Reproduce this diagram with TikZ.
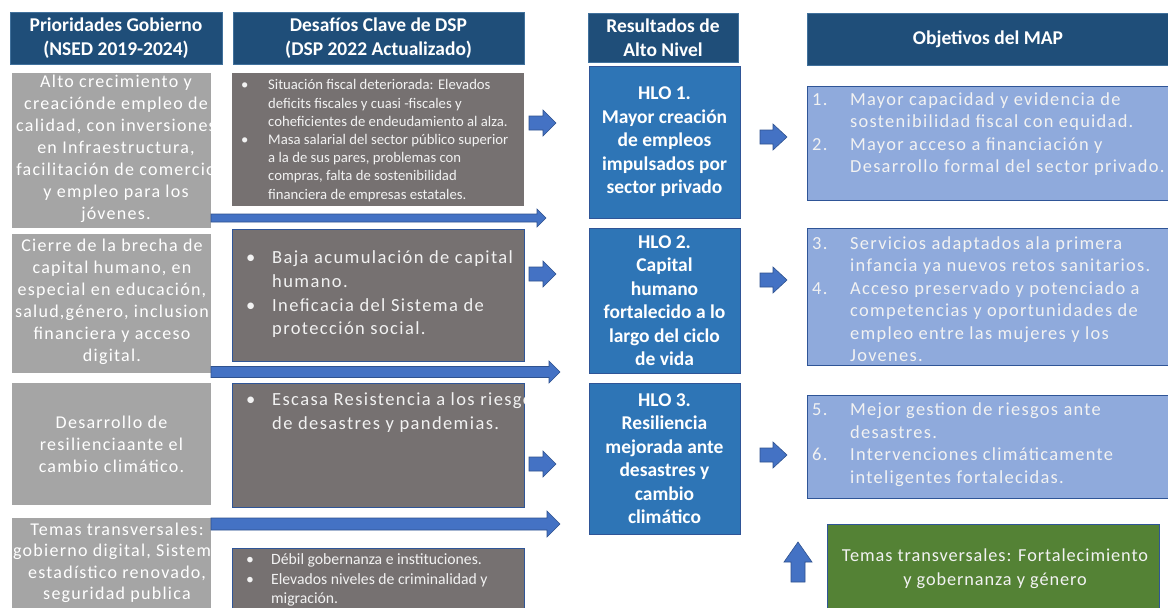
\documentclass[tikz,border=0pt]{standalone}
\usepackage{fontspec}
\setmainfont{Carlito}
\newfontfamily\spcL[LetterSpace=7]{Carlito}
\newfontfamily\spcM[LetterSpace=7.5]{Carlito}
\newfontfamily\spcR[LetterSpace=7]{Carlito}
\newfontfamily\spcG[LetterSpace=5]{Carlito}
\definecolor{hdrfill}{HTML}{1F4E79}
\definecolor{hdrline}{HTML}{41719C}
\definecolor{grayfill}{HTML}{A5A5A5}
\definecolor{midfill}{HTML}{767171}
\definecolor{blueline}{HTML}{2F5597}
\definecolor{hlofill}{HTML}{2E75B6}
\definecolor{mapfill}{HTML}{8FAADC}
\definecolor{greenfill}{HTML}{548235}
\definecolor{arrfill}{HTML}{4472C4}
\definecolor{arrline}{HTML}{2F528F}
\definecolor{lighttext}{HTML}{F2F2F2}
\newcommand\bulA{\makebox[27pt][l]{•}}
\newcommand\bulB{\makebox[26pt][l]{•}}
\newcommand\numA[1]{\makebox[38pt][l]{#1}}
\newcommand\blkarrowR[6]{%
  \draw[barrow] (#1,#4-#5) -- (#2,#4-#5) -- (#2,#4-#6) -- (#3,#4) -- (#2,#4+#6) -- (#2,#4+#5) -- (#1,#4+#5) -- cycle;}
\begin{document}
\begin{tikzpicture}[x=1pt,y=-1pt,
  box/.style={rectangle, inner sep=0pt, outer sep=0pt, anchor=north west, line width=0.8pt},
  hdr/.style={box, fill=hdrfill, draw=hdrline},
  lbox/.style={box, fill=grayfill},
  mbox/.style={box, fill=midfill, draw=blueline},
  hlobox/.style={box, fill=hlofill, draw=blueline},
  mapbox/.style={box, fill=mapfill, draw=blueline},
  gbox/.style={box, fill=greenfill, draw=blueline},
  hdrtext/.style={align=center, text=white, inner sep=0pt, font=\bfseries\fontsize{19.5}{23.5}\selectfont},
  ltext/.style={align=center, text=white, inner sep=0pt, font=\spcL\fontsize{18}{22}\selectfont},
  mtext/.style={align=left, text=lighttext, inner sep=0pt, anchor=west},
  hlotext/.style={align=center, text=white, inner sep=0pt, font=\bfseries\fontsize{19.5}{23.5}\selectfont},
  maptext/.style={align=left, text=lighttext, inner sep=0pt, anchor=west, font=\spcR\fontsize{18.4}{22.5}\selectfont},
  barrow/.style={fill=arrfill, draw=arrline, line width=0.6pt}
]
\useasboundingbox (0,0) rectangle (1168,608);
\fill[white] (0,0) rectangle (1168,608);

% headers
\node[hdr, minimum width=212pt, minimum height=52pt] (h1) at (10,12) {};
\node[hdrtext] (h1t) at (h1.center) {Prioridades Gobierno\\(NSED 2019-2024)};
\node[hdr, minimum width=291pt, minimum height=52pt] (h2) at (233,12) {};
\node[hdrtext] (h2t) at (h2.center) {Desafíos Clave de DSP\\(DSP 2022 Actualizado)};
\node[hdr, minimum width=150pt, minimum height=49pt] (h3) at (588,13) {};
\node[hdrtext] (h3t) at (h3.center) {Resultados de\\Alto Nivel};
\node[hdr, minimum width=362pt, minimum height=52pt] (h4) at (807,13) {};
\node[hdrtext] (h4t) at (h4.center) {Objetivos del MAP};

% left column
\node[lbox, minimum width=199pt, minimum height=155pt] (l1) at (12,73) {};
\begin{scope}
\clip (12,73) rectangle (211,228);
\node[ltext] (l1t) at (116,149) {Alto crecimiento y\\creaciónde empleo de\\calidad, con inversiones\\en Infraestructura,\\facilitación de comercio\\y empleo para los\\jóvenes.};
\end{scope}
\node[lbox, minimum width=199pt, minimum height=139pt] (l2) at (12,234) {};
\begin{scope}
\clip (12,234) rectangle (211,373);
\node[ltext] (l2t) at (112,302) {Cierre de la brecha de\\capital humano, en\\especial en educación,\\salud,género, inclusion\\financiera y acceso\\digital.};
\end{scope}
\node[lbox, minimum width=199pt, minimum height=122pt] (l3) at (12,383) {};
\node[ltext] (l3t) at (l3.center) {Desarrollo de\\resilienciaante el\\cambio climático.};
\node[lbox, minimum width=199pt, minimum height=95pt] (l4) at (12,518) {};
\begin{scope}
\clip (12,518) rectangle (211,608);
\node[ltext, font=\spcL\fontsize{18}{21.5}\selectfont] (l4t) at (117,563) {Temas transversales:\\gobierno digital, Sistema\\estadístico renovado,\\seguridad publica};
\end{scope}

% middle column
\node[box, fill=midfill, minimum width=292pt, minimum height=133pt] (m1) at (232,73) {};
\node[mtext, font=\fontsize{14.7}{18.2}\selectfont] (m1t) at (241,140.5) {\bulA Situación fiscal deteriorada: Elevados\\\hspace*{27pt}deficits fiscales y cuasi -fiscales y\\\hspace*{27pt}coheficientes de endeudamiento al alza.\\\bulA Masa salarial del sector público superior\\\hspace*{27pt}a la de sus  pares, problemas con\\\hspace*{27pt}compras, falta de sostenibilidad\\\hspace*{27pt}financiera de empresas estatales.};
\node[mbox, minimum width=292pt, minimum height=132pt] (m2) at (232,229) {};
\node[mtext, font=\spcM\fontsize{18.5}{23.7}\selectfont] (m2t) at (246,294.5) {\bulB Baja acumulación de capital\\\hspace*{26pt}humano.\\\bulB Ineficacia del Sistema de\\\hspace*{26pt}protección social.};
\node[mbox, minimum width=292pt, minimum height=124pt] (m3) at (232,383) {};
\begin{scope}
\clip (232,383) rectangle (524,507);
\node[mtext, font=\spcM\fontsize{18.5}{23.5}\selectfont] (m3t) at (246,412.5) {\bulB Escasa Resistencia a los riesgos\\\hspace*{26pt}de desastres y pandemias.};
\end{scope}
\node[mbox, minimum width=292pt, minimum height=70pt] (m4) at (232,548) {};
\node[mtext, font=\fontsize{15.7}{19.5}\selectfont] (m4t) at (246,580) {\makebox[25pt][l]{•}Débil gobernanza e instituciones.\\\makebox[25pt][l]{•}Elevados niveles de criminalidad y\\\hspace*{25pt}migración.};

% HLO column
\node[hlobox, minimum width=151pt, minimum height=152pt] (hlo1) at (589,66) {};
\node[hlotext] (hlo1t) at (hlo1.center) {HLO 1.\\Mayor creación\\de empleos\\impulsados por\\sector privado};
\node[hlobox, minimum width=151pt, minimum height=145pt] (hlo2) at (589,228) {};
\node[hlotext] (hlo2t) at (hlo2.center) {HLO 2.\\Capital\\humano\\fortalecido a lo\\largo del ciclo\\de vida};
\node[hlobox, minimum width=151pt, minimum height=151pt] (hlo3) at (589,383) {};
\node[hlotext] (hlo3t) at (hlo3.center) {HLO 3.\\Resiliencia\\mejorada ante\\desastres y\\cambio\\climático};

% MAP column
\node[mapbox, minimum width=362pt, minimum height=114pt] (map1) at (807,86) {};
\node[maptext] (map1t) at (812,134) {\numA{1.}Mayor capacidad y evidencia de\\\hspace*{38pt}sostenibilidad fiscal con equidad.\\\numA{2.}Mayor acceso a financiación y\\\hspace*{38pt}Desarrollo formal del sector privado.};
\node[mapbox, minimum width=362pt, minimum height=137pt] (map2) at (807,228) {};
\node[maptext] (map2t) at (812,299) {\numA{3.}Servicios adaptados ala primera\\\hspace*{38pt}infancia ya nuevos retos sanitarios.\\\numA{4.}Acceso preservado y potenciado a\\\hspace*{38pt}competencias y oportunidades de\\\hspace*{38pt}empleo entre las mujeres y los\\\hspace*{38pt}Jovenes.};
\node[mapbox, minimum width=362pt, minimum height=103pt] (map3) at (807,395) {};
\node[maptext] (map3t) at (812,444.5) {\numA{5.}Mejor gestion de riesgos ante\\\hspace*{38pt}desastres.\\\numA{6.}Intervenciones climáticamente\\\hspace*{38pt}inteligentes fortalecidas.};

% green box
\node[gbox, minimum width=332pt, minimum height=95pt] (grn) at (827,524) {};
\node[align=center, text=lighttext, inner sep=0pt, font=\spcG\fontsize{18.3}{24}\selectfont] (grnt) at (995,569) {Temas transversales: Fortalecimiento\\y gobernanza y género};

% long arrows
\blkarrowR{211}{537}{546}{218}{4}{9}
\blkarrowR{211}{549}{560}{372}{5.5}{11}
\blkarrowR{211}{547}{560}{524}{6}{13}
% middle to HLO arrows
\blkarrowR{529}{543}{556}{123}{7}{13}
\blkarrowR{529}{543}{556}{274}{7}{13}
\blkarrowR{529}{543}{556}{464}{7}{13}
% HLO to MAP arrows
\blkarrowR{760}{773}{787}{137}{7}{13}
\blkarrowR{760}{773}{787}{280}{7}{13}
\blkarrowR{760}{773}{787}{455}{7}{13}
% up arrow
\draw[barrow] (791,582) -- (791,562) -- (784,562) -- (798,542) -- (812,562) -- (805,562) -- (805,582) -- cycle;
\end{tikzpicture}
\end{document}
